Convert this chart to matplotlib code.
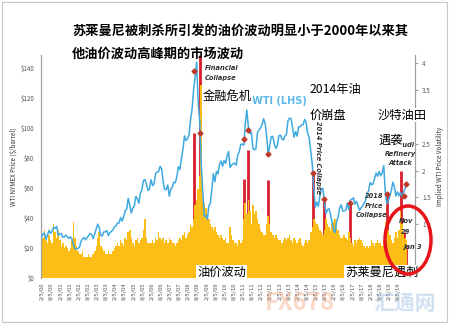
import numpy as np
import pandas as pd
import matplotlib
matplotlib.use('Agg')
import matplotlib.pyplot as plt
from matplotlib.patches import Ellipse, Rectangle

plt.rcParams['font.family'] = ['Noto Sans CJK SC', 'DejaVu Sans']
plt.rcParams['axes.unicode_minus'] = False

# 月度数据 2000-01 ~ 2020-01
dates = pd.date_range('2000-01-01', '2020-01-01', freq='MS') + pd.Timedelta(days=14)

wti = [
    27.2, 29.4, 29.9, 25.7, 28.8, 31.8, 29.8, 31.2, 33.9, 33.1, 34.4, 28.5,
    29.6, 29.6, 27.2, 27.4, 28.6, 27.6, 26.4, 27.4, 26.2, 22.2, 19.6, 19.3,
    19.7, 20.7, 24.4, 26.2, 27.0, 25.5, 26.9, 28.4, 29.7, 28.9, 26.3, 29.4,
    32.9, 35.9, 33.5, 28.3, 28.1, 30.7, 30.8, 31.6, 28.3, 30.3, 31.1, 32.1,
    34.3, 34.7, 36.7, 36.7, 40.3, 38.0, 40.7, 44.9, 45.9, 53.1, 48.5, 43.3,
    46.8, 48.0, 54.3, 53.0, 49.8, 56.3, 58.7, 65.0, 65.6, 62.4, 58.3, 59.4,
    65.5, 61.6, 62.7, 69.4, 70.8, 70.9, 74.4, 73.0, 63.8, 58.9, 59.1, 62.0,
    54.5, 59.3, 60.4, 63.9, 63.5, 67.5, 74.1, 72.4, 79.9, 85.8, 94.8, 91.7,
    93.0, 95.4, 105.5, 112.6, 125.4, 134.0, 144.0, 116.7, 104.1, 76.6, 57.3, 41.1,
    41.7, 39.1, 47.9, 49.7, 59.0, 69.6, 64.2, 71.1, 69.4, 75.7, 78.0, 74.5,
    78.3, 76.4, 81.2, 84.3, 73.7, 75.3, 76.3, 76.6, 75.2, 81.9, 84.3, 89.2,
    89.2, 88.6, 102.9, 112.0, 100.9, 96.3, 97.3, 86.3, 85.5, 86.3, 97.2, 98.6,
    100.3, 102.2, 106.2, 103.3, 94.7, 82.3, 87.9, 94.1, 94.5, 89.5, 86.5, 87.9,
    94.8, 95.3, 92.9, 92.0, 94.5, 95.8, 104.6, 106.6, 106.3, 100.5, 93.9, 97.6,
    94.6, 100.8, 100.8, 102.1, 102.2, 105.8, 103.6, 96.5, 93.2, 84.4, 75.8, 59.3,
    47.2, 50.6, 47.8, 54.5, 59.3, 59.8, 50.9, 42.9, 45.5, 46.2, 42.4, 37.2,
    31.7, 30.3, 37.6, 40.8, 46.7, 48.8, 44.7, 44.7, 45.2, 49.8, 45.7, 52.0,
    52.5, 53.5, 49.3, 51.1, 48.5, 45.2, 46.6, 48.0, 49.8, 51.6, 56.6, 57.9,
    63.7, 62.2, 62.7, 66.3, 70.0, 67.9, 71.0, 68.1, 70.2, 75.0, 57.0, 49.5,
    51.4, 55.0, 58.2, 63.9, 60.8, 54.7, 57.4, 54.8, 57.0, 54.0, 57.0, 59.9,
    62.0,
]

vol = [
    0.60, 0.75, 0.90, 0.70, 0.65, 0.80, 0.70, 0.65, 1.00, 0.85, 0.75, 0.90,
    0.70, 0.60, 0.65, 0.55, 0.60, 0.55, 0.50, 0.55, 0.70, 1.05, 0.75, 0.60,
    0.50, 0.45, 0.45, 0.50, 0.40, 0.40, 0.40, 0.45, 0.40, 0.40, 0.45, 0.50,
    0.60, 0.75, 0.85, 0.60, 0.55, 0.50, 0.45, 0.45, 0.50, 0.45, 0.45, 0.50,
    0.55, 0.60, 0.65, 0.60, 0.70, 0.65, 0.60, 0.75, 0.70, 0.85, 0.90, 0.75,
    0.65, 0.60, 0.70, 0.75, 0.65, 0.70, 0.75, 0.90, 1.10, 0.75, 0.65, 0.65,
    0.65, 0.70, 0.65, 0.75, 0.70, 0.85, 0.75, 0.70, 0.75, 0.65, 0.70, 0.65,
    0.75, 0.70, 0.65, 0.65, 0.60, 0.65, 0.70, 0.75, 0.70, 0.80, 0.85, 0.75,
    0.80, 0.85, 1.00, 0.95, 1.10, 1.35, 1.45, 1.65, 1.90, 3.60, 1.55, 1.40,
    1.30, 1.20, 1.10, 1.00, 0.95, 0.90, 0.95, 0.85, 0.80, 0.75, 0.80, 0.75,
    0.70, 0.75, 0.65, 0.65, 0.95, 0.80, 0.70, 0.65, 0.65, 0.60, 0.70, 0.65,
    0.70, 1.10, 1.40, 1.20, 1.45, 1.25, 1.00, 1.35, 1.20, 1.25, 1.10, 1.00,
    0.90, 0.85, 0.80, 0.80, 1.00, 1.15, 1.00, 0.85, 0.80, 0.75, 0.80, 0.75,
    0.70, 0.70, 0.65, 0.70, 0.75, 0.70, 0.75, 0.80, 0.70, 0.65, 0.75, 0.70,
    0.65, 0.70, 0.75, 0.65, 0.60, 0.65, 0.70, 0.65, 0.70, 0.85, 0.95, 1.10,
    1.05, 1.00, 0.95, 0.90, 0.85, 0.80, 0.90, 1.10, 1.00, 0.95, 0.90, 1.00,
    1.05, 1.10, 0.95, 0.90, 0.80, 0.75, 0.75, 0.80, 0.75, 0.70, 0.85, 0.75,
    0.65, 0.60, 0.70, 0.65, 0.70, 0.75, 0.70, 0.65, 0.60, 0.55, 0.60, 0.55,
    0.60, 0.70, 0.65, 0.60, 0.65, 0.70, 0.65, 0.65, 0.60, 0.70, 1.05, 0.95,
    0.90, 0.80, 0.70, 0.65, 0.75, 0.85, 0.75, 0.90, 1.25, 1.00, 0.85, 0.75,
    0.70,
]

# 事件：日期、波动率红柱高度
event_dates = pd.to_datetime([
    '2008-05-25', '2008-09-28', '2011-02-25', '2011-05-15', '2012-06-20',
    '2014-11-28', '2015-07-01', '2016-11-30', '2018-12-15', '2019-09-16',
    '2019-11-29', '2020-01-03',
])
event_vol = [2.70, 4.15, 1.85, 2.38, 1.82, 1.95, 1.45, 1.40, 1.58, 2.00, 0.85, 0.57]

# 油价曲线上的红色菱形
mark_dates = pd.to_datetime([
    '2008-05-25', '2008-09-28', '2011-02-25', '2011-05-15', '2012-06-20',
    '2014-11-28', '2015-07-01', '2016-11-30', '2018-12-15', '2019-11-29',
    '2020-01-03',
])
mark_price = [138, 97, 93, 99, 83, 70, 53, 50, 56, 55, 63]

tick_dates = pd.date_range('2000-01-05', '2020-01-05', freq='6MS') + pd.Timedelta(days=4)
tick_labels = [f'{d.month}/5/{d.year % 100:02d}' for d in tick_dates]

fig = plt.figure(figsize=(4.5, 3.26), dpi=100)
fig.patch.set_facecolor('white')

def px(x, y):
    return x / 450, 1 - y / 326

ax2 = fig.add_axes([41 / 450, 48 / 326, 374 / 450, 223 / 326])
ax = ax2.twinx()
# 价格轴放左边，波动率放右边
ax.yaxis.tick_left()
ax.yaxis.set_label_position('left')
ax2.yaxis.tick_right()
ax2.yaxis.set_label_position('right')
ax.set_zorder(ax2.get_zorder() + 1)
ax.patch.set_visible(False)

# 波动率（右轴）
ax2.vlines(event_dates, 0, event_vol, color='#d81e2c', linewidth=2.0, zorder=1)
ax2.bar(dates, vol, width=31, color='#fbbd16', linewidth=0, zorder=2)
ax2.set_ylim(0, 4.15)
ax2.set_yticks([1, 1.5, 2, 2.5, 3, 3.5, 4])
ax2.set_yticklabels(['1', '1.5', '2', '2.5', '', '3.5', '4'])
ax2.set_ylabel('Implied WTI Price Volatility', fontsize=4.5, color='#333333', labelpad=4)

# 油价（左轴）
ax.plot(dates, wti, color='#3fa9e0', linewidth=1.1, zorder=3)
ax.plot(mark_dates, mark_price, linestyle='none', marker='D', markersize=2.5,
        color='#c0392b', zorder=4)
ax.set_ylim(0, 148.7)
ax.set_yticks(range(0, 141, 20))
ax.set_yticklabels([f'${v}' for v in range(0, 141, 20)])
ax.set_ylabel('WTI NYMEX Price ($/barrel)', fontsize=4.5, color='#333333', labelpad=2)

ax2.set_xlim(pd.Timestamp('2000-01-05'), pd.Timestamp('2020-07-01'))
ax2.set_xticks(tick_dates)
ax2.set_xticklabels(tick_labels, rotation=90, fontsize=4.2, color='#555555')

for a in (ax, ax2):
    a.tick_params(axis='y', labelsize=4.5, labelcolor='#555555', length=0, pad=5)
    a.tick_params(axis='x', length=0, pad=3)
    for s in ('top', 'bottom'):
        a.spines[s].set_visible(False)
    a.spines['left'].set_color('#a0a0a0')
    a.spines['right'].set_color('#a0a0a0')
ax2.tick_params(axis='y', length=2, color='#a0a0a0', pad=3)

# 文字标注
white = dict(facecolor='white', edgecolor='none', pad=0.5)
fig.text(*px(72, 31), '苏莱曼尼被刺杀所引发的油价波动明显小于2000年以来其',
         fontsize=9.5, fontweight='bold', va='center', ha='left')
fig.text(*px(72, 54), '他油价波动高峰期的市场波动',
         fontsize=9.5, fontweight='bold', va='center', ha='left')
cjk = [
    (203, 97, '金融危机'), (310, 90, '2014年油'), (310, 115, '价崩盘'),
    (378, 115, '沙特油田'), (378, 140, '遇袭'),
    (197, 272, '油价波动'), (345, 272, '苏莱曼尼遇刺'),
]
for x, y, s in cjk:
    fig.text(*px(x, y), s, fontsize=8.8, fontweight='medium', va='center',
             ha='left', bbox=white, zorder=10)

small = dict(fontsize=4.8, fontstyle='italic', fontweight='bold', color='#333333',
             va='center', family=['DejaVu Sans'])
fig.text(*px(205, 68), 'Financial', ha='left', **small)
fig.text(*px(205, 78), 'Collapse', ha='left', **small)
fig.text(*px(318, 158), '2014 Price Collapse', ha='center', rotation=-90, **small)
fig.text(*px(404, 145), 'Saudi', ha='center', **small)
fig.text(*px(400, 154), 'Refinery', ha='center', **small)
fig.text(*px(400, 163), 'Attack', ha='center', **small)
fig.text(*px(374, 196), '2018', ha='center', **small)
fig.text(*px(374, 206), 'Price', ha='center', **small)
fig.text(*px(372, 215), 'Collapse', ha='center', **small)
fig.text(*px(406, 221), 'Nov', ha='center', **small)
fig.text(*px(406, 232), '29', ha='center', **small)
fig.text(*px(412, 247), 'Jan 3', ha='center', **small)
fig.text(*px(252, 101), 'WTI (LHS)', fontsize=7, fontweight='bold', color='#5bb8e8',
         ha='left', va='center', family=['DejaVu Sans'])

# 红色圈
fig.patches.append(Ellipse(px(408, 240), 46 / 450, 68 / 326, transform=fig.transFigure,
                           fill=False, edgecolor='#e8141c', linewidth=2.5, zorder=20))
# 外框
fig.patches.append(Rectangle((2 / 450, 4 / 326), 445 / 450, 320 / 326, transform=fig.transFigure,
                             fill=False, edgecolor='#c8c8c8', linewidth=0.8))

# 水印
fig.text(*px(300, 303), 'FX678', fontsize=17, fontweight='bold', color='#f4a27a',
         alpha=0.4, ha='center', va='center', zorder=15)
fig.text(*px(405, 303), '汇通网', fontsize=15, fontweight='bold', color='#8fb4e0',
         alpha=0.4, ha='center', va='center', zorder=15)

fig.savefig('out.png', dpi=100)
